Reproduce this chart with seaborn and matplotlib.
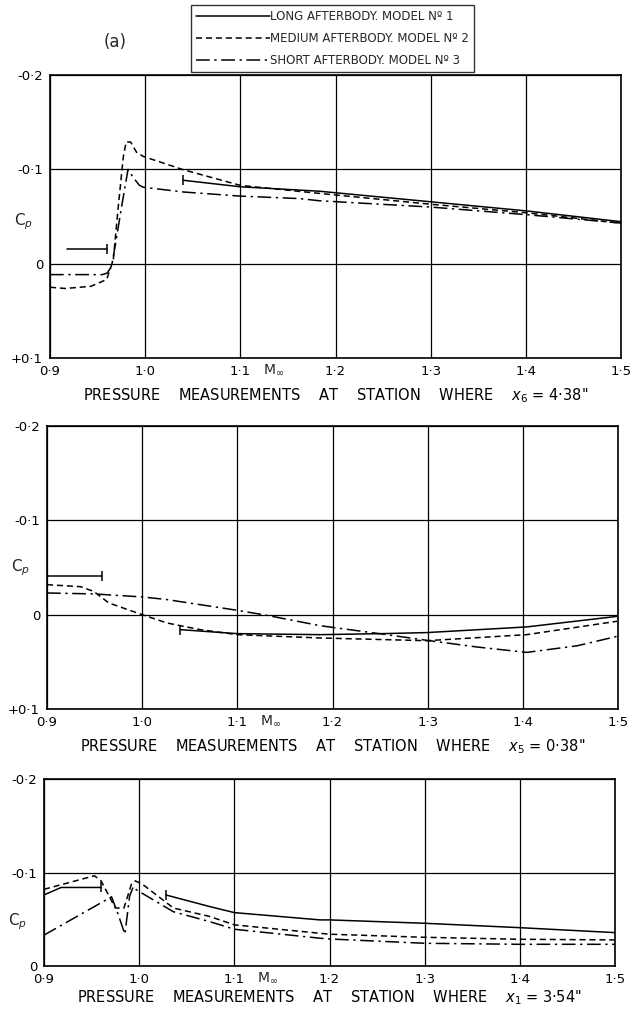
import numpy as np
import pandas as pd
import matplotlib
matplotlib.use("Agg")
import matplotlib.pyplot as plt
import seaborn as sns
from matplotlib.lines import Line2D

sns.set_style("white")
plt.rcParams['font.family'] = ['DejaVu Sans']
plt.rcParams['mathtext.fontset'] = 'dejavusans'

# ---------------- data ----------------
# Panel 1 : station x6 = 4.38"
p1_short_M = [0.90, 0.955, 0.960, 0.9647, 0.970, 0.975, 0.982, 0.987, 0.994, 0.998, 1.04, 1.10, 1.162, 1.183, 1.30, 1.40, 1.50]
p1_short_cp = [0.0116, 0.0116, 0.010, 0.003, -0.028, -0.059, -0.100, -0.092, -0.083, -0.081, -0.076, -0.0716, -0.069, -0.0667, -0.060, -0.052, -0.043]
p1_med_M = [0.90, 0.916, 0.943, 0.9595, 0.9665, 0.9717, 0.977, 0.980, 0.9847, 0.991, 0.998, 1.04, 1.10, 1.183, 1.30, 1.40, 1.50]
p1_med_cp = [0.025, 0.0263, 0.024, 0.0168, -0.004, -0.060, -0.113, -0.129, -0.129, -0.118, -0.1137, -0.0996, -0.083, -0.0745, -0.063, -0.054, -0.043]
p1_long_sub_M = [0.918, 0.960]
p1_long_sub_cp = [-0.016, -0.016]
p1_long_sup_M = [1.04, 1.10, 1.183, 1.30, 1.40, 1.50]
p1_long_sup_cp = [-0.0884, -0.0815, -0.0768, -0.0656, -0.056, -0.0445]

# Panel 2 : station x5 = 0.38"
p2_short_M = [0.90, 0.949, 1.00, 1.026, 1.10, 1.131, 1.187, 1.257, 1.299, 1.352, 1.404, 1.457, 1.499]
p2_short_cp = [-0.023, -0.022, -0.0188, -0.016, -0.0046, 0.0007, 0.0117, 0.0212, 0.0272, 0.0343, 0.040, 0.033, 0.023]
p2_med_M = [0.90, 0.935, 0.949, 0.965, 1.00, 1.026, 1.061, 1.10, 1.187, 1.299, 1.404, 1.499]
p2_med_cp = [-0.0318, -0.0297, -0.0247, -0.0124, 0.0, 0.0088, 0.0159, 0.0212, 0.0247, 0.0276, 0.0212, 0.007]
p2_long_sub_M = [0.90, 0.958]
p2_long_sub_cp = [-0.0406, -0.0406]
p2_long_sup_M = [1.04, 1.10, 1.187, 1.257, 1.299, 1.404, 1.499]
p2_long_sup_cp = [0.0159, 0.0201, 0.0212, 0.020, 0.019, 0.013, 0.0018]

# Panel 3 : station x1 = 3.54"
p3_short_M = [0.90, 0.971, 0.978, 0.985, 0.990, 0.994, 0.997, 1.036, 1.074, 1.10, 1.19, 1.20, 1.30, 1.40, 1.50]
p3_short_cp = [-0.033, -0.074, -0.055, -0.034, -0.075, -0.085, -0.0815, -0.058, -0.0475, -0.0393, -0.0297, -0.0289, -0.0243, -0.0232, -0.0232]
p3_med_M = [0.90, 0.953, 0.960, 0.975, 0.984, 0.992, 0.996, 1.004, 1.036, 1.074, 1.10, 1.19, 1.20, 1.30, 1.40, 1.50]
p3_med_cp = [-0.082, -0.0965, -0.091, -0.062, -0.062, -0.088, -0.091, -0.087, -0.062, -0.053, -0.044, -0.035, -0.034, -0.0307, -0.0286, -0.0279]
p3_long_sub_M = [0.90, 0.918, 0.960]
p3_long_sub_cp = [-0.076, -0.084, -0.084]
p3_long_sup_M = [1.028, 1.074, 1.10, 1.19, 1.20, 1.30, 1.40, 1.50]
p3_long_sup_cp = [-0.076, -0.0636, -0.0571, -0.0493, -0.0493, -0.0457, -0.041, -0.0357]

x_ticks = [0.9, 1.0, 1.1, 1.2, 1.3, 1.4, 1.5]
x_tick_labels = ["0·9", "1·0", "1·1", "1·2", "1·3", "1·4", "1·5"]
y_ticks_full = [-0.2, -0.1, 0.0, 0.1]
y_tick_labels_full = ["-0·2", "-0·1", "0", "+0·1"]
y_ticks_short = [-0.2, -0.1, 0.0]
y_tick_labels_short = ["-0·2", "-0·1", "0"]

legend_labels = ["LONG AFTERBODY. MODEL Nº 1",
                 "MEDIUM AFTERBODY. MODEL Nº 2",
                 "SHORT AFTERBODY. MODEL Nº 3"]
xlabels = ['PRESSURE    MEASUREMENTS    AT    STATION    WHERE    $x_6$ = 4·38"',
           'PRESSURE    MEASUREMENTS    AT    STATION    WHERE    $x_5$ = 0·38"',
           'PRESSURE    MEASUREMENTS    AT    STATION    WHERE    $x_1$ = 3·54"']
xlabel_pads = [6, 6, 2]

DASHED = (4, 2.5)
DASHDOT = (9, 3, 1.5, 3)
LW = 1.1

W, H = 639, 1010
fig = plt.figure(figsize=(W / 100, H / 100), dpi=100)

def frac(l, t, r, b):
    return [l / W, 1 - b / H, (r - l) / W, (b - t) / H]

axes = [fig.add_axes(frac(50, 75, 621, 358)),
        fig.add_axes(frac(47, 426, 618, 709)),
        fig.add_axes(frac(44, 779, 615, 966))]

panels = [
    (p1_short_M, p1_short_cp, p1_med_M, p1_med_cp, p1_long_sub_M, p1_long_sub_cp, p1_long_sup_M, p1_long_sup_cp),
    (p2_short_M, p2_short_cp, p2_med_M, p2_med_cp, p2_long_sub_M, p2_long_sub_cp, p2_long_sup_M, p2_long_sup_cp),
    (p3_short_M, p3_short_cp, p3_med_M, p3_med_cp, p3_long_sub_M, p3_long_sub_cp, p3_long_sup_M, p3_long_sup_cp),
]
cp_label_y = [-0.044, -0.050, -0.047]

for i, (ax, data) in enumerate(zip(axes, panels)):
    sM, scp, mM, mcp, lsM, lscp, luM, lucp = data
    sns.lineplot(x=sM, y=scp, ax=ax, color='black', lw=LW, sort=False, estimator=None)
    ax.lines[-1].set_dashes(DASHDOT)
    sns.lineplot(x=mM, y=mcp, ax=ax, color='black', lw=LW, sort=False, estimator=None)
    ax.lines[-1].set_dashes(DASHED)
    sns.lineplot(x=lsM, y=lscp, ax=ax, color='black', lw=LW, sort=False, estimator=None)
    ln = ax.lines[-1]
    ln.set_marker('|'); ln.set_markevery([len(lsM) - 1]); ln.set_markersize(7)
    ln.set_markeredgewidth(1.1); ln.set_markeredgecolor('black')
    sns.lineplot(x=luM, y=lucp, ax=ax, color='black', lw=LW, sort=False, estimator=None)
    ln = ax.lines[-1]
    ln.set_marker('|'); ln.set_markevery([0]); ln.set_markersize(7)
    ln.set_markeredgewidth(1.1); ln.set_markeredgecolor('black')

    ax.set_xlim(0.9, 1.5)
    if i < 2:
        ax.set_ylim(0.1, -0.2)
        ax.set_yticks(y_ticks_full)
        ax.set_yticklabels(y_tick_labels_full)
    else:
        ax.set_ylim(0.0, -0.2)
        ax.set_yticks(y_ticks_short)
        ax.set_yticklabels(y_tick_labels_short)
    ax.set_xticks(x_ticks)
    ax.set_xticklabels(x_tick_labels)
    ax.tick_params(length=0, labelsize=9.5, pad=5, colors='black')
    ax.grid(True, color='black', lw=0.9)
    for sp in ax.spines.values():
        sp.set_visible(True)
        sp.set_color('black')
        sp.set_linewidth(1.2)
    ax.set_xlabel(xlabels[i], fontsize=10.5, labelpad=xlabel_pads[i], color='black')
    ax.set_ylabel('')
    ax.annotate('M$_{\\infty}$', xy=(1.135, 0), xycoords=('data', 'axes fraction'),
                xytext=(0, -5), textcoords='offset pixels', ha='center', va='top', fontsize=10)
    ax.annotate('C$_{p}$', xy=(0, cp_label_y[i]), xycoords=('axes fraction', 'data'),
                xytext=(-26, 0), textcoords='offset pixels', ha='center', va='center', fontsize=11)

fig.text(115 / W, 1 - 42 / H, "(a)", fontsize=12, ha='center', va='center')

handles = [Line2D([], [], color='black', lw=LW),
           Line2D([], [], color='black', lw=LW, dashes=DASHED),
           Line2D([], [], color='black', lw=LW, dashes=DASHDOT)]
leg = fig.legend(handles, legend_labels, loc='upper left', bbox_to_anchor=(191 / W, 1 - 5 / H),
                 fontsize=8.5, handlelength=6.2, handletextpad=0.0, labelspacing=0.75,
                 borderpad=0.45, frameon=True, fancybox=False, edgecolor='black',
                 borderaxespad=0)
leg.get_frame().set_linewidth(1.0)

fig.savefig("out.png", dpi=100)
